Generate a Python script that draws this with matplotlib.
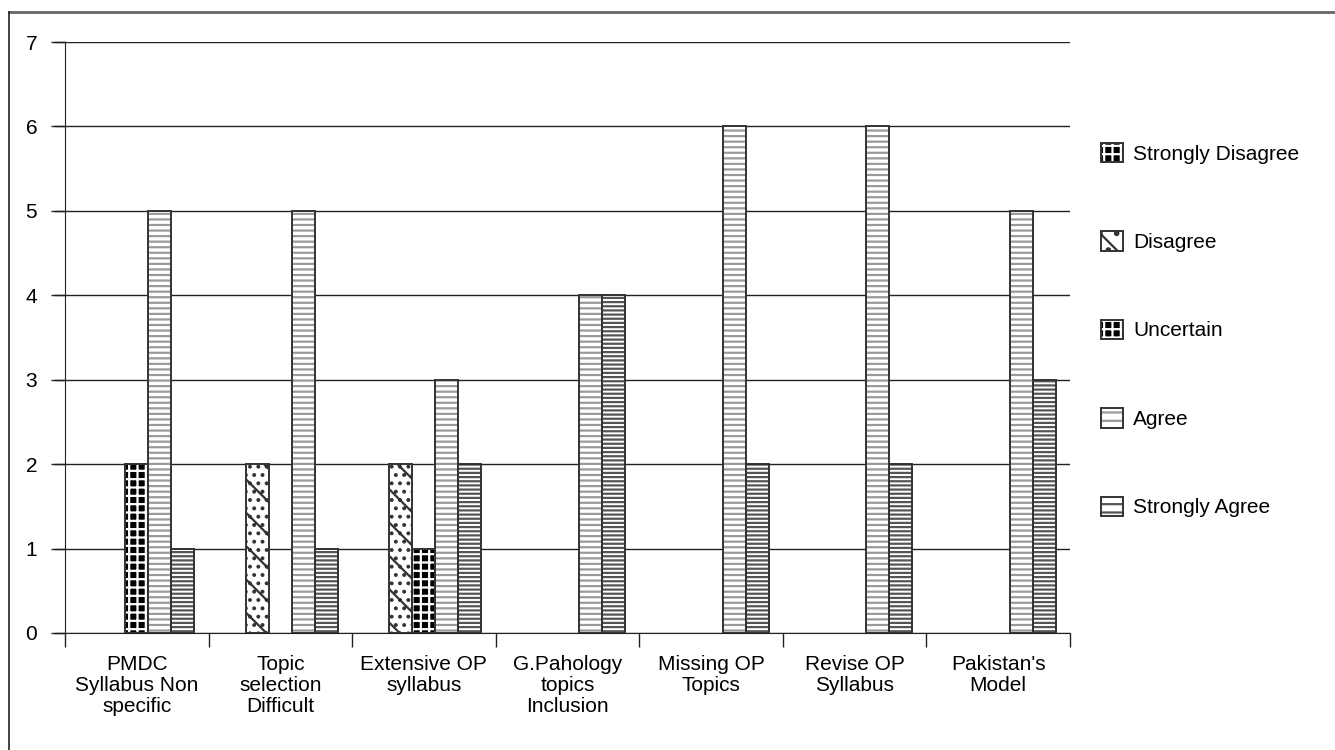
import matplotlib
matplotlib.use("Agg")
import matplotlib.pyplot as plt
from matplotlib.lines import Line2D
from matplotlib.patches import Patch
import numpy as np

categories = ["PMDC\nSyllabus Non\nspecific", "Topic\nselection\nDifficult",
              "Extensive OP\nsyllabus", "G.Pahology\ntopics\nInclusion",
              "Missing OP\nTopics", "Revise OP\nSyllabus", "Pakistan's\nModel"]
series = ["Strongly Disagree", "Disagree", "Uncertain", "Agree", "Strongly Agree"]

strongly_disagree = [0, 0, 0, 0, 0, 0, 0]
disagree = [0, 2, 2, 0, 0, 0, 0]
uncertain = [2, 0, 1, 0, 0, 0, 0]
agree = [5, 5, 3, 4, 6, 6, 5]
strongly_agree = [1, 1, 2, 4, 2, 2, 3]

values = [strongly_disagree, disagree, uncertain, agree, strongly_agree]

# look of each series: face, hatch, hatch colour
styles = [
    dict(face="black", hatch="++", hcolor="white"),
    dict(face="white", hatch="\\..", hcolor="#333333"),
    dict(face="black", hatch="++", hcolor="white"),
    dict(face="white", hatch="---", hcolor="#9a9a9a"),
    dict(face="white", hatch="----", hcolor="#555555"),
]

plt.rcParams["font.family"] = ["Liberation Sans", "DejaVu Sans"]
plt.rcParams["hatch.linewidth"] = 1.6

fig = plt.figure(figsize=(13.35, 7.5), dpi=100)
ax = fig.add_axes([65 / 1335, 1 - 633 / 750, (1070 - 65) / 1335, (633 - 42) / 750])

x = np.arange(len(categories)) + 0.5
width = 0.16
for i, (vals, st) in enumerate(zip(values, styles)):
    vals = np.array(vals, dtype=float)
    keep = vals > 0
    pos = (x + (i - 2) * width)[keep]
    ax.bar(pos, vals[keep], width, color=st["face"], hatch=st["hatch"],
           edgecolor=st["hcolor"], linewidth=0, zorder=3)
    ax.bar(pos, vals[keep], width, fill=False, edgecolor="#333333",
           linewidth=1.4, zorder=4)

ax.set_xlim(0, 7)
ax.set_ylim(0, 7)
ax.set_yticks(range(8))
ax.tick_params(axis="y", length=10, width=1, labelsize=15, pad=10, color="#222222")
ax.yaxis.grid(True, color="#222222", linewidth=1, zorder=0)
ax.set_xticks(range(8))
ax.set_xticklabels([])
ax.set_xticks(x, minor=True)
ax.set_xticklabels(categories, minor=True, fontsize=15, linespacing=1.12)
ax.tick_params(axis="x", which="major", length=10, width=1, color="#222222")
ax.tick_params(axis="x", which="minor", length=0, pad=16)
for s in ["top", "right"]:
    ax.spines[s].set_visible(False)
for s in ["left", "bottom"]:
    ax.spines[s].set_color("#222222")

# gridlines reach left past the axis like tick marks
for yv in range(8):
    ax.add_line(Line2D([-0.07, 0], [yv, yv], color="#222222", linewidth=1,
                       clip_on=False))

handles = []
for name, st in zip(series, styles):
    fillp = Patch(facecolor=st["face"], hatch=st["hatch"][:2],
                  edgecolor=st["hcolor"], linewidth=0)
    edge = Patch(fill=False, edgecolor="#333333", linewidth=1.4)
    handles.append((fillp, edge))
fig.legend(handles=handles, labels=series, loc="upper left",
           bbox_to_anchor=(1082 / 1335, 1 - 124 / 750),
           frameon=False, fontsize=15, labelspacing=3.25, handlelength=1.05,
           handleheight=1.05, handletextpad=0.5)

# outer frame (top and left edges)
fig.add_artist(Line2D([9 / 1335, 1], [1 - 12 / 750, 1 - 12 / 750], color="#666666",
                      linewidth=2, transform=fig.transFigure))
fig.add_artist(Line2D([9 / 1335, 9 / 1335], [0, 1 - 12 / 750], color="#222222",
                      linewidth=1.2, transform=fig.transFigure))

fig.savefig("out.png", dpi=100)
